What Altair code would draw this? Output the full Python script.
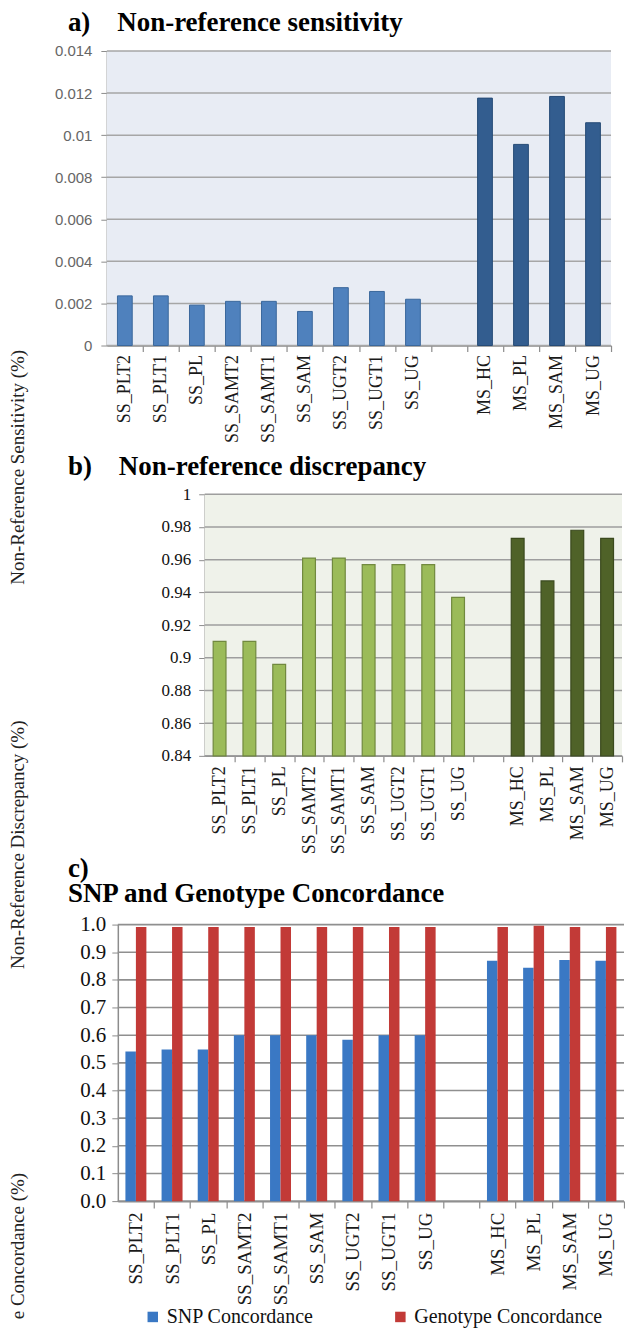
import altair as alt
import pandas as pd

cats = ["SS_PLT2", "SS_PLT1", "SS_PL", "SS_SAMT2", "SS_SAMT1", "SS_SAM",
        "SS_UGT2", "SS_UGT1", "SS_UG", "MS_HC", "MS_PL", "MS_SAM", "MS_UG"]
groups = ["SS"] * 9 + ["MS"] * 4
gap = " "
x_domain = cats[:9] + [gap] + cats[9:]

sensitivity = [0.00236, 0.00236, 0.00192, 0.0021, 0.0021, 0.00162,
               0.00275, 0.00257, 0.0022, 0.01176, 0.00956, 0.01184, 0.01059]
discrepancy = [0.910, 0.910, 0.896, 0.961, 0.961, 0.957,
               0.957, 0.957, 0.937, 0.973, 0.947, 0.978, 0.973]
snp_conc = [0.541, 0.548, 0.548, 0.600, 0.600, 0.600,
            0.584, 0.600, 0.600, 0.869, 0.844, 0.872, 0.869]
geno_conc = [0.991, 0.991, 0.991, 0.991, 0.991, 0.991,
             0.991, 0.991, 0.991, 0.991, 0.996, 0.991, 0.991]
series_names = ["SNP Concordance", "Genotype Concordance"]

sens_ticks = [0, 0.002, 0.004, 0.006, 0.008, 0.01, 0.012, 0.014]
disc_ticks = [0.84, 0.86, 0.88, 0.9, 0.92, 0.94, 0.96, 0.98, 1.0]
conc_ticks = [0.0, 0.1, 0.2, 0.3, 0.4, 0.5, 0.6, 0.7, 0.8, 0.9, 1.0]

titles = ["a)", "Non-reference sensitivity", "b)", "Non-reference discrepancy",
          "c)", "SNP and Genotype Concordance"]
y_titles = ["Non-Reference Sensitivity (%)", "Non-Reference Discrepancy (%)", "e Concordance (%)"]

df_a = pd.DataFrame({"cat": cats, "grp": groups, "v": sensitivity})
df_b = pd.DataFrame({"cat": cats, "grp": groups, "v": discrepancy})
df_c = pd.DataFrame({
    "cat": cats + cats,
    "series": [series_names[0]] * len(cats) + [series_names[1]] * len(cats),
    "v": snp_conc + geno_conc,
})

SERIF = "Liberation Serif"
SANS = "Liberation Sans"
NB = "\u00a0"
N = len(x_domain)
LEFT = 99          # width of the left column (y titles, panel letters)


def x_axis(size, padding, plot_w, tick):
    half = plot_w / N / 2
    return alt.Axis(title=None, labelAngle=270, ticks=True, tickSize=tick,
                    tickOffset=half, labelOffset=-half, tickColor="#8c8c8c", tickWidth=1.2,
                    domainColor="#8c8c8c", domainWidth=1.5, labelFont=SERIF,
                    labelFontSize=size, labelColor="#1a1a1a", labelPadding=padding, grid=False)


def y_axis(values, fmt, shift, font, size, color, pad):
    return alt.Axis(title=None, values=values, format=fmt, grid=False, offset=-shift,
                    domainColor="#8c8c8c", domainWidth=1.5, tickColor="#8c8c8c",
                    tickSize=6, labelPadding=pad, labelFont=font, labelFontSize=size,
                    labelColor=color)


def panel(bars, shift, plot_w, h, ticks, yscale, yaxis, bg, grid_color, grid_w):
    layers = []
    if bg:
        layers.append(alt.Chart(pd.DataFrame({"z": [0]})).mark_rect(color=bg).encode(
            x=alt.value(shift), x2=alt.value(shift + plot_w), y=alt.value(0), y2=alt.value(h)))
    layers.append(alt.Chart(pd.DataFrame({"v": ticks})).mark_rule(
        color=grid_color, strokeWidth=grid_w).encode(
        y=alt.Y("v:Q", scale=yscale, axis=yaxis),
        x=alt.value(shift), x2=alt.value(shift + plot_w)))
    layers.append(bars)
    return alt.layer(*layers).properties(width=shift + plot_w, height=h)


def left_column(h, title_text, title_offset, ytitle, ytitle_y):
    return alt.Chart(pd.DataFrame({"t": [ytitle]})).mark_text(
        angle=270, align="center", baseline="middle", font=SERIF, fontSize=19,
        color="#222222").encode(text="t:N", x=alt.value(10), y=alt.value(ytitle_y)).properties(
        width=LEFT, height=h,
        title=alt.TitleParams(title_text, anchor="start", dx=60, offset=title_offset,
                              font=SERIF, fontSize=27, fontWeight="bold", color="black",
                              lineHeight=25))


# ---------- panel a ----------
A_SHIFT, A_W, A_H = 0, 505, 295
ys_a = alt.Scale(domain=[0, 0.014], nice=False)
ax_a = y_axis(sens_ticks, "~g", A_SHIFT, SANS, 15, "#666666", 9)
bars_a = alt.Chart(df_a).mark_bar(strokeWidth=1).encode(
    x=alt.X("cat:N", sort=None,
            scale=alt.Scale(domain=x_domain, range=[A_SHIFT, A_SHIFT + A_W],
                            paddingInner=0.59, paddingOuter=0.295),
            axis=x_axis(18, 3, A_W, 6)),
    y=alt.Y("v:Q", scale=ys_a, axis=ax_a),
    color=alt.Color("grp:N", scale=alt.Scale(domain=["SS", "MS"], range=["#4f81bd", "#335d8f"]),
                    legend=None),
    stroke=alt.Stroke("grp:N", scale=alt.Scale(domain=["SS", "MS"], range=["#3a679c", "#254a75"]),
                      legend=None),
)
panel_a = panel(bars_a, A_SHIFT, A_W, A_H, sens_ticks, ys_a, ax_a, "#e8ecf4", "#a6a6a6", 1.5)

# ---------- panel b ----------
B_SHIFT, B_W, B_H = 98, 418, 262
ys_b = alt.Scale(domain=[0.84, 1.0], nice=False, zero=False, clamp=True)
ax_b = y_axis(disc_ticks, "~g", B_SHIFT, SERIF, 17, "#111111", 8)
bars_b = alt.Chart(df_b).mark_bar(strokeWidth=1.2).encode(
    x=alt.X("cat:N", sort=None,
            scale=alt.Scale(domain=x_domain, range=[B_SHIFT, B_SHIFT + B_W],
                            paddingInner=0.57, paddingOuter=0.285),
            axis=x_axis(18, 4, B_W, 6)),
    y=alt.Y("v:Q", scale=ys_b, axis=ax_b),
    color=alt.Color("grp:N", scale=alt.Scale(domain=["SS", "MS"], range=["#9bbb59", "#4f6228"]),
                    legend=None),
    stroke=alt.Stroke("grp:N", scale=alt.Scale(domain=["SS", "MS"], range=["#71893f", "#3b4a1e"]),
                      legend=None),
)
panel_b = panel(bars_b, B_SHIFT, B_W, B_H, disc_ticks, ys_b, ax_b, "#eff2ea", "#9e9e9e", 1.5)

# ---------- panel c ----------
C_SHIFT, C_W, C_H = 11, 507, 277
ys_c = alt.Scale(domain=[0, 1], nice=False)
ax_c = y_axis(conc_ticks, ".1f", C_SHIFT, SERIF, 21, "#111111", 6)
bars_c = alt.Chart(df_c).mark_bar().encode(
    x=alt.X("cat:N", sort=None,
            scale=alt.Scale(domain=x_domain, range=[C_SHIFT, C_SHIFT + C_W],
                            paddingInner=0.42, paddingOuter=0.21),
            axis=x_axis(19, 4, C_W, 7)),
    xOffset=alt.XOffset("series:N", sort=series_names),
    y=alt.Y("v:Q", scale=ys_c, axis=ax_c),
    color=alt.Color("series:N", sort=series_names,
                    scale=alt.Scale(domain=series_names, range=["#3a78c4", "#c23a37"]),
                    legend=alt.Legend(orient="none", legendX=36, legendY=383, direction="horizontal",
                                      title=None, symbolType="square", symbolSize=110,
                                      labelFont=SERIF, labelFontSize=20, labelLimit=400,
                                      labelColor="#111111", columnPadding=76)),
)
panel_c = panel(bars_c, C_SHIFT, C_W, C_H, conc_ticks, ys_c, ax_c, None, "#8f8f8f", 1.6)

chart = alt.ConcatChart(
    concat=[
        left_column(444, titles[0] + NB * 4 + titles[1], 14, y_titles[0], 417), panel_a,
        left_column(430.5, titles[2] + NB * 4 + titles[3], 13, y_titles[1], 351), panel_b,
        left_column(277, [titles[4], NB * 7 + titles[5]], 17, y_titles[2], 322), panel_c,
    ],
    columns=2,
    spacing=0,
    bounds="flush",
    align="each",
    padding=0,
).resolve_scale(
    x="independent", y="independent", color="independent", stroke="independent",
    xOffset="independent",
).configure_view(stroke=None)

chart.save("out.html", embed_options={"renderer": "svg", "actions": False})
